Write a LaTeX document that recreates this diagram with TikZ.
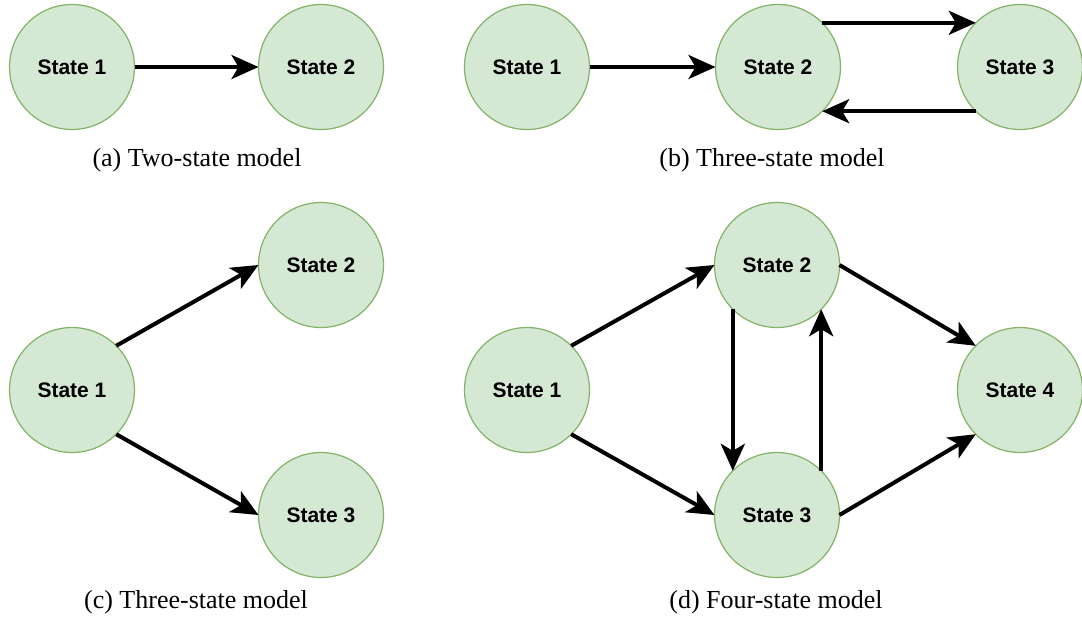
\documentclass[tikz,border=0pt]{standalone}
\usepackage{fontspec}
\setmainfont{Liberation Serif}
\newfontfamily\statefont{Liberation Sans}
\usetikzlibrary{arrows.meta}
\definecolor{stfill}{HTML}{D5E8D4}
\definecolor{stdraw}{HTML}{82B366}
\tikzset{
  state/.style={circle, fill=stfill, draw=stdraw, line width=1.2pt,
    minimum size=125pt, inner sep=0pt, outer sep=0pt,
    font=\statefont\bfseries\fontsize{21}{25}\selectfont},
  trans/.style={line width=4pt, -{Stealth[length=27pt,width=24pt,inset=7pt]}},
  caption/.style={anchor=base, font=\fontsize{26}{30}\selectfont}
}
\begin{document}
\begin{tikzpicture}[x=1pt,y=-1pt]
\useasboundingbox (0,0) rectangle (1082,619);
% (a)
\node[state] (a1) at (72,67) {State 1};
\node[state] (a2) at (321,67) {State 2};
\draw[trans] (a1.east) -- (a2.west);
\node[caption] (ca) at (197,166) {(a) Two-state model};
% (b)
\node[state] (b1) at (527,67) {State 1};
\node[state] (b2) at (778,67) {State 2};
\node[state] (b3) at (1020,67) {State 3};
\draw[trans] (b1.east) -- (b2.west);
\draw[trans] (b2.45) -- (b3.135);
\draw[trans] (b3.-135) -- (b2.-45);
\node[caption] (cb) at (772,166) {(b) Three-state model};
% (c)
\node[state] (c1) at (72,390) {State 1};
\node[state] (c2) at (321,265) {State 2};
\node[state] (c3) at (321,515) {State 3};
\draw[trans] (c1.45) -- (c2.west);
\draw[trans] (c1.-45) -- (c3.west);
\node[caption] (cc) at (196,608) {(c) Three-state model};
% (d)
\node[state] (d1) at (527,390) {State 1};
\node[state] (d2) at (777,265) {State 2};
\node[state] (d3) at (777,515) {State 3};
\node[state] (d4) at (1020,390) {State 4};
\draw[trans] (d1.45) -- (d2.west);
\draw[trans] (d1.-45) -- (d3.west);
\draw[trans] (d2.-135) -- (d3.135);
\draw[trans] (d3.45) -- (d2.-45);
\draw[trans] (d2.east) -- (d4.135);
\draw[trans] (d3.east) -- (d4.-135);
\node[caption] (cd) at (776,608) {(d) Four-state model};
\end{tikzpicture}
\end{document}
